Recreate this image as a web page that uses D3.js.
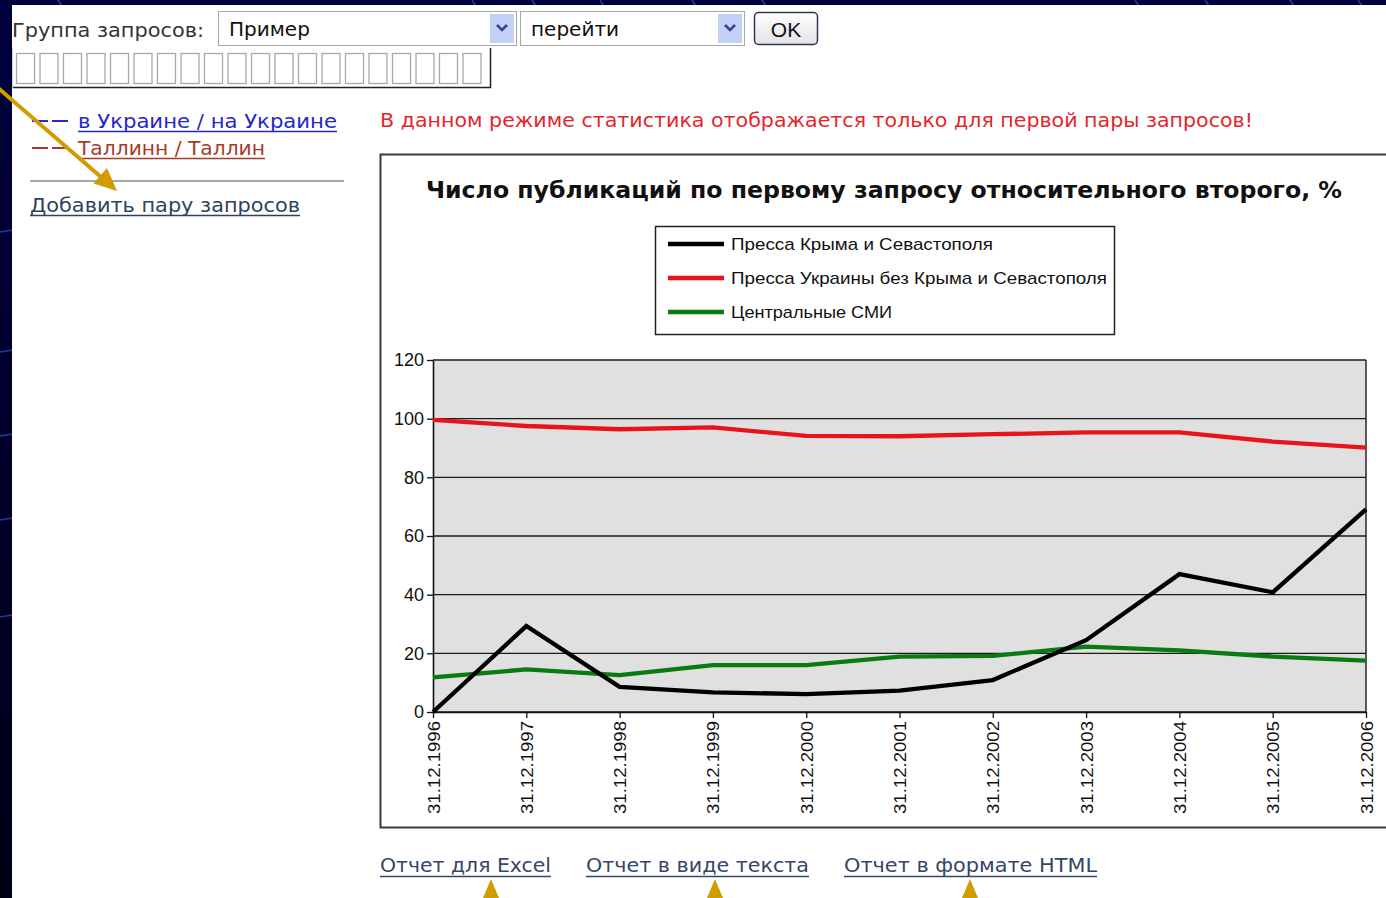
<!DOCTYPE html>
<html>
<head>
<meta charset="utf-8">
<script src="https://cdn.jsdelivr.net/npm/d3@7"></script>
<style>
  html, body { margin: 0; padding: 0; background: #000030; }
  svg { display: block; }
</style>
</head>
<body>
<svg id="page" width="1386" height="898"></svg>
<script>
// ---- data ----
const years = ["31.12.1996", "31.12.1997", "31.12.1998", "31.12.1999", "31.12.2000",
               "31.12.2001", "31.12.2002", "31.12.2003", "31.12.2004", "31.12.2005", "31.12.2006"];
const crimeaPress  = [0, 29.3, 8.6, 6.7, 6.1, 7.3, 10.9, 24.5, 47, 40.8, 69.1];
const ukrainePress = [99.6, 97.5, 96.4, 97, 94.1, 94, 94.7, 95.3, 95.3, 92.2, 90.1];
const centralMedia = [11.8, 14.5, 12.6, 16, 16, 18.9, 19.1, 22.3, 21, 18.9, 17.5];
const yTicks = [0, 20, 40, 60, 80, 100, 120];
const seriesNames = ["Пресса Крыма и Севастополя", "Пресса Украины без Крыма и Севастополя", "Центральные СМИ"];
const seriesColors = ["#000000", "#e8141c", "#0a7a12"];
const chartTitle = "Число публикаций по первому запросу относительного второго, %";

const W = 1386, H = 898;
const svg = d3.select("#page");
const UI = "DejaVu Sans, Verdana, sans-serif";
const CH = "Liberation Sans, Arial, sans-serif";
const gold = "#d19c00";

// squeeze/stretch text to a given width
function fit(sel, w) { return sel.attr("textLength", w).attr("lengthAdjust", "spacingAndGlyphs"); }

// ---- dark slide backdrop ----
const defs = svg.append("defs");
const bg = defs.append("linearGradient").attr("id", "bg").attr("x1", 0).attr("y1", 0).attr("x2", 0).attr("y2", 1);
bg.append("stop").attr("offset", 0).attr("stop-color", "#00003f");
bg.append("stop").attr("offset", 1).attr("stop-color", "#000016");
svg.append("rect").attr("width", W).attr("height", H).attr("fill", "url(#bg)");
const streaks = svg.append("g").attr("stroke", "#2f58c8").attr("stroke-width", 1.5).attr("opacity", 0.7).attr("fill", "none");
[58, 472, 532, 600, 692, 762, 1135, 1205, 1290, 1358].forEach(x =>
  streaks.append("line").attr("x1", x).attr("y1", 0).attr("x2", x + 4).attr("y2", 6));
[232, 352, 436, 520, 617].forEach(yy =>
  streaks.append("line").attr("x1", 0).attr("y1", yy).attr("x2", 13).attr("y2", yy - 2));

// white page
svg.append("rect").attr("x", 12).attr("y", 5).attr("width", W - 12).attr("height", H - 5).attr("fill", "#ffffff");

// ---- top form ----
fit(svg.append("text").attr("x", 12).attr("y", 37).attr("font-family", UI).attr("font-size", 19)
  .attr("fill", "#333").text("Группа запросов:"), 192);

function dropdown(x0, x1, label) {
  const g = svg.append("g");
  g.append("rect").attr("x", x0 + 0.5).attr("y", 11.5).attr("width", x1 - x0).attr("height", 34)
    .attr("fill", "#fff").attr("stroke", "#a7a7a7");
  g.append("rect").attr("x", x1 - 26).attr("y", 14).attr("width", 24).attr("height", 29).attr("fill", "#c3d2f4");
  g.append("path").attr("d", `M${x1 - 19},${25} L${x1 - 14},${30} L${x1 - 9},${25}`)
    .attr("fill", "none").attr("stroke", "#33449a").attr("stroke-width", 2.6);
  g.append("text").attr("x", x0 + 11).attr("y", 36).attr("font-family", UI).attr("font-size", 20)
    .attr("fill", "#111").text(label);
}
dropdown(218, 516, "Пример");
dropdown(520, 744, "перейти");

const okGrad = defs.append("linearGradient").attr("id", "okg").attr("x1", 0).attr("y1", 0).attr("x2", 0).attr("y2", 1);
okGrad.append("stop").attr("offset", 0).attr("stop-color", "#ffffff");
okGrad.append("stop").attr("offset", 1).attr("stop-color", "#e2e2e8");
svg.append("rect").attr("x", 754.5).attr("y", 12.5).attr("width", 63).attr("height", 32).attr("rx", 4)
  .attr("fill", "url(#okg)").attr("stroke", "#2c3954").attr("stroke-width", 1.5);
svg.append("text").attr("x", 786).attr("y", 37).attr("text-anchor", "middle").attr("font-family", CH)
  .attr("font-size", 21).attr("fill", "#111").text("OK");

// empty input with placeholder boxes
const box = svg.append("g");
box.append("path").attr("d", "M12.5,48 V87.5 H490.5 V48").attr("fill", "none").attr("stroke", "#cfcfcf");
box.append("path").attr("d", "M13,87.5 H490.5 V48").attr("fill", "none").attr("stroke", "#222").attr("stroke-width", 1.5);
d3.range(20).forEach(i => box.append("rect").attr("x", 16.5 + i * 23.5).attr("y", 53.5)
  .attr("width", 18).attr("height", 30).attr("fill", "none").attr("stroke", "#a8a8a8").attr("stroke-width", 1.3));

// ---- left side links ----
function link(x, yb, str, w, color) {
  fit(svg.append("text").attr("x", x).attr("y", yb).attr("font-family", UI).attr("font-size", 19)
    .attr("fill", color).text(str), w);
  svg.append("line").attr("x1", x).attr("x2", x + w).attr("y1", yb + 3.5).attr("y2", yb + 3.5)
    .attr("stroke", color).attr("stroke-width", 1.4);
}
svg.append("line").attr("x1", 32).attr("x2", 68).attr("y1", 121).attr("y2", 121).attr("stroke", "#2a2ac8").attr("stroke-width", 2)
  .attr("stroke-dasharray", "16,4");
link(78, 128, "в Украине / на Украине", 259, "#2626c8");
svg.append("line").attr("x1", 32).attr("x2", 68).attr("y1", 148).attr("y2", 148).attr("stroke", "#a83a2a").attr("stroke-width", 2)
  .attr("stroke-dasharray", "16,4");
link(78, 155, "Таллинн / Таллин", 187, "#a83a2a");
svg.append("line").attr("x1", 30).attr("x2", 344).attr("y1", 181).attr("y2", 181).attr("stroke", "#8a8a8a").attr("stroke-width", 1.6);
link(30, 212, "Добавить пару запросов", 270, "#2e4260");

// notice
fit(svg.append("text").attr("x", 380).attr("y", 127).attr("font-family", UI).attr("font-size", 19)
  .attr("fill", "#e3262c").text("В данном режиме статистика отображается только для первой пары запросов!"), 873);

// ---- chart frame ----
svg.append("rect").attr("x", 380.5).attr("y", 154.5).attr("width", 1020).attr("height", 673)
  .attr("fill", "#fff").attr("stroke", "#3a3a3a").attr("stroke-width", 2);
fit(svg.append("text").attr("x", 884).attr("y", 198).attr("text-anchor", "middle").attr("font-family", UI)
  .attr("font-weight", "bold").attr("font-size", 23).attr("fill", "#111").text(chartTitle), 916);

// scales
const x = d3.scalePoint().domain(years).range([433, 1366]);
const y = d3.scaleLinear().domain([0, 120]).range([712, 360]);

// plot area
const plot = svg.append("g");
plot.append("rect").attr("x", x(years[0])).attr("y", y(120)).attr("width", x(years[years.length - 1]) - x(years[0]))
  .attr("height", y(0) - y(120)).attr("fill", "#e0e0e0");
plot.selectAll("line.grid").data(yTicks).join("line").attr("class", "grid")
  .attr("x1", x(years[0])).attr("x2", x(years[years.length - 1]))
  .attr("y1", d => y(d)).attr("y2", d => y(d)).attr("stroke", "#1a1a1a").attr("stroke-width", 1.3);
plot.append("line").attr("x1", x(years[years.length - 1])).attr("x2", x(years[years.length - 1]))
  .attr("y1", y(120)).attr("y2", y(0)).attr("stroke", "#333").attr("stroke-width", 1.6);

// axes
const yAxis = svg.append("g").attr("transform", `translate(${x(years[0])},0)`)
  .call(d3.axisLeft(y).tickValues(yTicks).tickSize(6).tickPadding(3).tickSizeOuter(0));
yAxis.select(".domain").attr("stroke", "#111").attr("stroke-width", 1.6);
yAxis.selectAll(".tick line").attr("stroke", "#111").attr("stroke-width", 1.3);
yAxis.selectAll(".tick text").attr("font-family", CH).attr("font-size", 18).attr("fill", "#111");

const xAxis = svg.append("g").attr("transform", `translate(0,${y(0)})`)
  .call(d3.axisBottom(x).tickSize(6).tickSizeOuter(0));
xAxis.select(".domain").attr("stroke", "#111").attr("stroke-width", 1.6);
xAxis.selectAll(".tick line").attr("stroke", "#111").attr("stroke-width", 1.3);
xAxis.selectAll(".tick text").attr("font-family", CH).attr("font-size", 17).attr("fill", "#111")
  .attr("text-anchor", "end").attr("dy", null).attr("y", null)
  .attr("transform", "translate(6,9) rotate(-90)")
  .attr("textLength", 93).attr("lengthAdjust", "spacingAndGlyphs");

// series lines
const line = d3.line().x((d, i) => x(years[i])).y(d => y(d));
[[centralMedia, seriesColors[2]], [ukrainePress, seriesColors[1]], [crimeaPress, seriesColors[0]]].forEach(([vals, c]) => {
  svg.append("path").datum(vals).attr("d", line).attr("fill", "none").attr("stroke", c)
    .attr("stroke-width", 4.3).attr("stroke-linejoin", "miter");
});

// legend
const legendWidths = [262, 376, 161];
const lg = svg.append("g");
lg.append("rect").attr("x", 655.5).attr("y", 226.5).attr("width", 459).attr("height", 108)
  .attr("fill", "#fff").attr("stroke", "#222").attr("stroke-width", 1.5);
seriesNames.forEach((name, i) => {
  const ly = 244 + i * 34;
  lg.append("line").attr("x1", 668).attr("x2", 724).attr("y1", ly).attr("y2", ly)
    .attr("stroke", seriesColors[i]).attr("stroke-width", 4.3);
  fit(lg.append("text").attr("x", 731).attr("y", ly + 6).attr("font-family", CH).attr("font-size", 17)
    .attr("fill", "#111").text(name), legendWidths[i]);
});

// ---- report links ----
function reportLink(x0, w, str) {
  fit(svg.append("text").attr("x", x0).attr("y", 872).attr("font-family", UI).attr("font-size", 20)
    .attr("fill", "#34466a").text(str), w);
  svg.append("line").attr("x1", x0).attr("x2", x0 + w).attr("y1", 876.5).attr("y2", 876.5)
    .attr("stroke", "#34466a").attr("stroke-width", 1.4);
}
reportLink(380, 171, "Отчет для Excel");
reportLink(586, 223, "Отчет в виде текста");
reportLink(844, 253, "Отчет в формате HTML");

// ---- golden pointers ----
[491, 715, 970].forEach(cx => svg.append("path")
  .attr("d", `M${cx},879 L${cx + 8},898 L${cx - 8},898 Z`).attr("fill", gold));
svg.append("line").attr("x1", -2).attr("y1", 88).attr("x2", 101).attr("y2", 177)
  .attr("stroke", gold).attr("stroke-width", 4);
svg.append("path").attr("d", "M117,191 L93.5,183.5 L107,168 Z").attr("fill", gold);
</script>
</body>
</html>
